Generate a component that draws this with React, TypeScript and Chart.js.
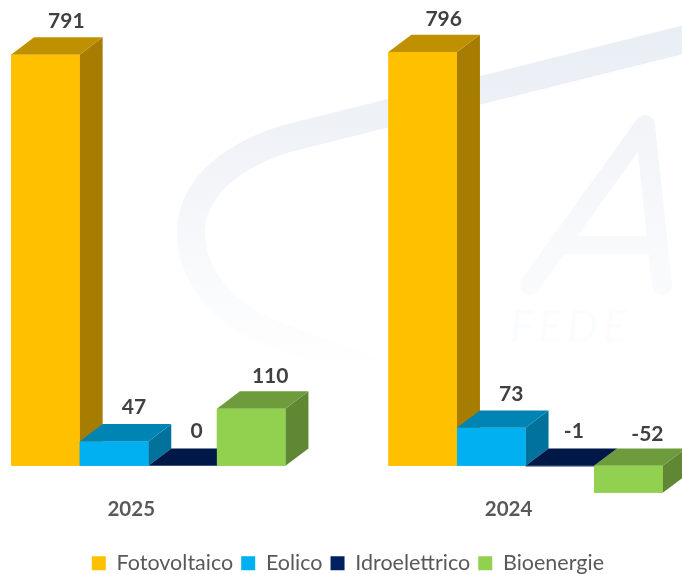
import React, { useEffect, useRef } from "react";
import { Chart, registerables } from "chart.js";

Chart.register(...registerables);

const years = ["2025", "2024"];
const fotovoltaico = [791, 796];
const eolico = [47, 73];
const idroelettrico = [0, -1];
const bioenergie = [110, -52];

const FONT = "Lato, Carlito, Calibri, sans-serif";
const DEPTH_X = 23;
const DEPTH_Y = 17.3;
const CANVAS_LEFT = -41;
const CANVAS_WIDTH = 778;
const CANVAS_HEIGHT = 584;

// faces: front, top, side
const faces = [
  ["#FFC000", "#BF9000", "#A67D00"],
  ["#00B0F0", "#0084B4", "#00729C"],
  ["#002060", "#001848", "#00153E"],
  ["#92D050", "#6E9C3C", "#5F8734"],
];

const labelShift = [
  [0, 1],
  [-1, 0],
  [-7, -1],
  [-2, 2],
];

const extrude = {
  id: "extrude",
  afterDatasetsDraw(chart: any) {
    const ctx = chart.ctx;
    ctx.save();
    chart.data.datasets.forEach((_: any, i: number) => {
      const [, top, side] = faces[i];
      for (const bar of chart.getDatasetMeta(i).data) {
        const { x, y, base, width } = bar.getProps(["x", "y", "base", "width"], true);
        const l = x - width / 2;
        const r = x + width / 2;
        const hi = Math.min(y, base);
        const lo = Math.max(y, base);
        ctx.fillStyle = side;
        ctx.beginPath();
        ctx.moveTo(r, hi);
        ctx.lineTo(r + DEPTH_X, hi - DEPTH_Y);
        ctx.lineTo(r + DEPTH_X, lo - DEPTH_Y);
        ctx.lineTo(r, lo);
        ctx.closePath();
        ctx.fill();
        ctx.fillStyle = top;
        ctx.beginPath();
        ctx.moveTo(l, hi);
        ctx.lineTo(l + DEPTH_X, hi - DEPTH_Y);
        ctx.lineTo(r + DEPTH_X, hi - DEPTH_Y);
        ctx.lineTo(r, hi);
        ctx.closePath();
        ctx.fill();
        bar.draw(ctx);
      }
    });
    ctx.restore();
  },
};

const valueLabels = {
  id: "valueLabels",
  afterDatasetsDraw(chart: any) {
    const ctx = chart.ctx;
    ctx.save();
    ctx.font = `700 21px ${FONT}`;
    ctx.fillStyle = "#404040";
    ctx.textAlign = "center";
    ctx.textBaseline = "middle";
    chart.data.datasets.forEach((ds: any, i: number) => {
      chart.getDatasetMeta(i).data.forEach((bar: any, j: number) => {
        const { x, y, base } = bar.getProps(["x", "y", "base"], true);
        const hi = Math.min(y, base);
        ctx.fillText(String(ds.data[j]), x + 21 + labelShift[i][0], hi - 34 + labelShift[i][1]);
      });
    });
    ctx.restore();
  },
};

const watermark = {
  id: "watermark",
  beforeDraw(chart: any) {
    const ctx = chart.ctx;
    const fade = ctx.createLinearGradient(0, 30, 0, 370);
    fade.addColorStop(0, "#E9EEF5");
    fade.addColorStop(0.3, "#EFF2F7");
    fade.addColorStop(0.65, "#F7F9FB");
    fade.addColorStop(0.9, "#FDFDFE");
    fade.addColorStop(1, "#FFFFFF");
    ctx.save();
    ctx.translate(-CANVAS_LEFT, 0);
    ctx.strokeStyle = fade;
    ctx.lineWidth = 28;
    ctx.lineJoin = "round";
    ctx.beginPath();
    ctx.moveTo(690, 38);
    ctx.lineTo(285, 139);
    ctx.bezierCurveTo(220, 160, 191, 195, 191, 233);
    ctx.bezierCurveTo(191, 280, 230, 318, 275, 335);
    ctx.lineTo(375, 372);
    ctx.stroke();
    const soft = ctx.createLinearGradient(0, 110, 0, 300);
    soft.addColorStop(0, "#F1F4F8");
    soft.addColorStop(1, "#FAFBFC");
    ctx.strokeStyle = soft;
    ctx.lineCap = "round";
    ctx.lineWidth = 20;
    ctx.beginPath();
    ctx.moveTo(530, 285);
    ctx.lineTo(645, 125);
    ctx.lineTo(662, 285);
    ctx.stroke();
    ctx.lineWidth = 18;
    ctx.lineCap = "butt";
    ctx.beginPath();
    ctx.moveTo(565, 245);
    ctx.lineTo(655, 245);
    ctx.stroke();
    ctx.font = `italic 400 44px ${FONT}`;
    ctx.fillStyle = "#FBFCFD";
    ctx.textAlign = "left";
    ctx.textBaseline = "middle";
    (ctx as any).letterSpacing = "5px";
    ctx.fillText("FEDE", 510, 328);
    ctx.restore();
  },
};

const centreLegend = {
  id: "centreLegend",
  afterLayout(chart: any) {
    chart.legend.left += 11;
    chart.legend.right += 11;
  },
};

export default function App() {
  const ref = useRef<HTMLCanvasElement>(null);
  useEffect(() => {
    const series: [string, number[]][] = [
      ["Fotovoltaico", fotovoltaico],
      ["Eolico", eolico],
      ["Idroelettrico", idroelettrico],
      ["Bioenergie", bioenergie],
    ];
    const chart = new Chart(ref.current!, {
      type: "bar",
      data: {
        labels: years,
        datasets: series.map(([label, data], i) => ({
          label,
          data,
          backgroundColor: faces[i][0],
          borderWidth: 0,
          clip: false,
          categoryPercentage: 0.7273,
          barPercentage: 1,
        })),
      },
      options: {
        responsive: false,
        animation: false,
        layout: { padding: { left: 0.6, right: 22.8, top: 8.4, bottom: 0 } },
        plugins: {
          title: { display: false },
          tooltip: { enabled: false },
          legend: {
            position: "bottom",
            labels: {
              boxWidth: 14,
              boxHeight: 14,
              padding: 8,
              color: "#595959",
              font: { family: FONT, size: 21.5 },
            },
          },
        },
        scales: {
          x: {
            grid: { display: false, drawTicks: false },
            border: { display: false },
            afterFit(scale: any) {
              scale.height += 22.9;
            },
            ticks: {
              color: "#595959",
              padding: 0,
              labelOffset: -17,
              maxRotation: 0,
              font: { family: FONT, size: 20.5, weight: "bold" },
            },
          },
          y: { display: false, min: -60, max: 880 },
        },
      },
      plugins: [watermark, extrude, valueLabels, centreLegend],
    } as any);
    return () => chart.destroy();
  }, []);
  return (
    <div style={{ position: "absolute", left: 0, top: 0, width: 682, height: 574, overflow: "hidden", background: "#fff" }}>
      <canvas
        ref={ref}
        width={CANVAS_WIDTH}
        height={CANVAS_HEIGHT}
        style={{ display: "block", position: "absolute", left: CANVAS_LEFT, top: 0 }}
      />
    </div>
  );
}
